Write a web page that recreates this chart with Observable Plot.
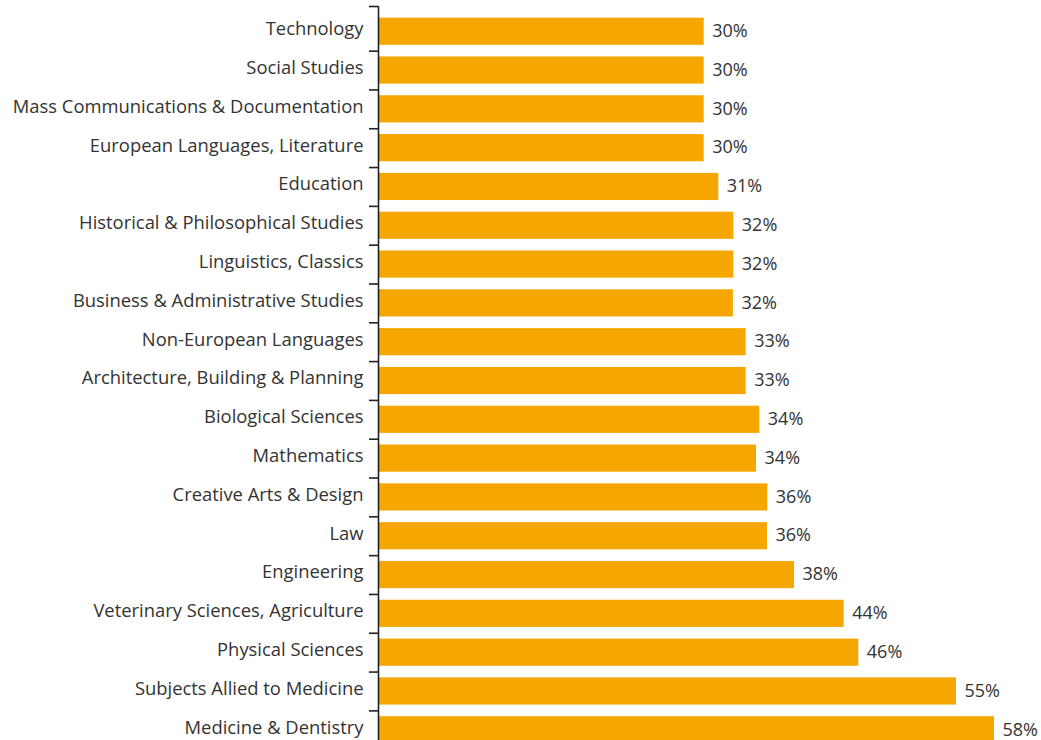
<!DOCTYPE html>
<html>
<head>
<meta charset="utf-8">
<script src="https://cdn.jsdelivr.net/npm/d3@7"></script>
<script src="https://cdn.jsdelivr.net/npm/@observablehq/plot@0.6"></script>
<style>
  html, body { margin: 0; padding: 0; background: #fff; overflow: hidden; }
  svg { display: block; }
</style>
</head>
<body>
<script>
const categories = [
  "Technology",
  "Social Studies",
  "Mass Communications & Documentation",
  "European Languages, Literature",
  "Education",
  "Historical & Philosophical Studies",
  "Linguistics, Classics",
  "Business & Administrative Studies",
  "Non-European Languages",
  "Architecture, Building & Planning",
  "Biological Sciences",
  "Mathematics",
  "Creative Arts & Design",
  "Law",
  "Engineering",
  "Veterinary Sciences, Agriculture",
  "Physical Sciences",
  "Subjects Allied to Medicine",
  "Medicine & Dentistry"
];
// bar lengths (percent)
const values = [30.1, 30.1, 30.1, 30.1, 31.45, 32.84, 32.84, 32.8, 33.98, 33.98, 35.24, 34.94, 35.98, 35.95, 38.45, 43.04, 44.39, 53.42, 56.93];
// printed value labels
const valueLabels = ["30%", "30%", "30%", "30%", "31%", "32%", "32%", "32%", "33%", "33%", "34%", "34%", "36%", "36%", "38%", "44%", "46%", "55%", "58%"];
const xDomain = [0, 60];

const data = categories.map((c, i) => ({category: c, value: values[i], label: valueLabels[i]}));

const W = 1041, H = 755, mTop = 6, mBottom = 0;
const pad = 0.3;
const step = (H - mTop - mBottom) / (categories.length + pad);
const ink = "#333333";
const axisInk = "#222222";

const chart = Plot.plot({
  width: W,
  height: H,
  marginTop: mTop,
  marginBottom: mBottom,
  marginLeft: 378,
  marginRight: 13.8,
  style: {fontFamily: "'Open Sans', sans-serif", fontSize: "18px", color: ink, background: "#fff"},
  x: {domain: xDomain, axis: null},
  y: {domain: categories, padding: pad, round: false, label: null},
  marks: [
    Plot.barX(data, {x: "value", y: "category", fill: "#F5A700"}),
    Plot.text(data, {x: "value", y: "category", text: "label", textAnchor: "start", dx: 8, dy: -0.5, fill: ink, fontSize: 18}),
    Plot.axisY({tickSize: 0, tickPadding: 15, fontSize: 18.4, dy: -2.5, fill: ink}),
    Plot.ruleX([0], {stroke: axisInk, strokeWidth: 1.6}),
    Plot.ruleY(categories.slice(1), {y: d => d, x1: d => 0, x2: d => 0, insetLeft: -9, dy: -step / 2, stroke: axisInk, strokeWidth: 1.6}),
    Plot.ruleY([categories[0]], {y: d => d, x1: d => 0, x2: d => 0, insetLeft: -9, dy: -(pad + (1 - pad) / 2) * step, stroke: axisInk, strokeWidth: 1.6})
  ]
});
document.body.appendChild(chart);
</script>
</body>
</html>
